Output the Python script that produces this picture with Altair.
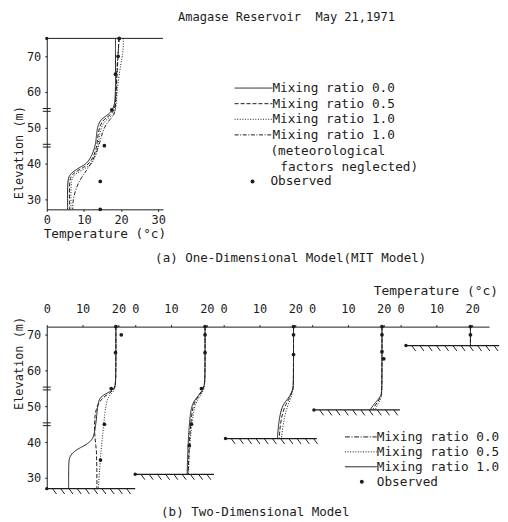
import altair as alt
import pandas as pd

FONT = "DejaVu Sans Mono"
INK = "#1c1c1c"

# ---------------- (a) One-Dimensional Model (MIT Model) ----------------
A_TITLE = "Amagase Reservoir\u00a0 May 21,1971"
A_CAPTION = "(a) One-Dimensional Model(MIT Model)"
A_SERIES = ["Mixing ratio 0.0", "Mixing ratio 0.5", "Mixing ratio 1.0",
            "Mixing ratio 1.0 (meteorological factors neglected)"]
A_ELEV = [75, 72, 70, 65, 60, 56, 54, 53, 52, 50, 48, 46, 44, 42, 40, 39, 38, 37, 36, 34, 30, 27.2]
A_MIX_00 = [18.5, 18.5, 18.5, 18.5, 18.5, 18.3, 17.0, 15.5, 14.3, 13.6, 13.4, 13.2, 12.8, 12.0, 10.8, 9.0, 7.5, 6.3, 5.8, 5.6, 5.6, 5.6]
A_MIX_05 = [19.4, 19.3, 19.2, 18.9, 18.7, 18.5, 17.6, 16.3, 15.0, 14.1, 13.8, 13.6, 13.3, 12.6, 11.5, 10.0, 8.3, 6.9, 6.3, 6.1, 6.1, 6.1]
A_MIX_10 = [20.6, 20.6, 20.3, 19.5, 18.9, 18.7, 18.2, 17.0, 15.7, 14.6, 14.2, 13.9, 13.7, 13.1, 12.2, 10.9, 9.2, 7.6, 6.8, 6.5, 6.5, 6.5]
A_MIX_10_NOMET = [19.5, 19.3, 19.1, 18.8, 18.6, 18.5, 18.3, 17.6, 16.7, 15.4, 14.8, 14.3, 13.7, 12.9, 11.9, 11.3, 10.6, 10.0, 9.3, 8.2, 7.0, 7.0]
A_OBS_ELEV = [75, 70, 65, 55, 45, 35, 27.2]
A_OBS_TEMP = [19.5, 19.2, 18.5, 17.5, 15.5, 14.4, 14.4]
A_SURFACE = 75
A_BOTTOM = 27.2
A_TMAX = 31.3
A_XTICKS = [0, 10, 20, 30]
A_YTICKS = [30, 40, 50, 60, 70]
INTAKES = [55, 45]

# ---------------- (b) Two-Dimensional Model ----------------
B_CAPTION = "(b) Two-Dimensional Model"
B_SERIES = ["Mixing ratio 0.0", "Mixing ratio 0.5", "Mixing ratio 1.0"]
B_SURFACE = 72.3
B_BOTTOM = 27
B_TMAX = 24.7
B_XTICKS = [0, 10, 20]
B_GROUND = [27, 31, 41, 49, 67]
B_GROUND_SPAN = [[0, 24.7], [0, 22], [0.5, 26], [0.5, 24.5], [1.5, 27.5]]
B_ELEV = [
    [72.3, 60, 56, 55, 54, 53, 52, 50, 48, 45, 42, 41, 40, 39, 38, 37, 36, 35, 33, 27],
    [72.3, 58, 56, 55, 54, 53, 52, 50, 45, 40, 35, 31],
    [72.3, 56, 55, 54, 53, 52, 51, 50, 48, 45, 41],
    [72.3, 54, 53, 52, 51, 50, 49],
    [72.3, 67],
]
B_MIX_00 = [
    [19.3, 19.3, 19.2, 18.8, 17.5, 15.5, 14.6, 14.2, 14.0, 13.7, 13.2, 12.8, 12.0, 10.5, 8.5, 7.2, 6.5, 6.2, 6.1, 6.1],
    [19.5, 19.5, 19.3, 19.0, 18.4, 17.6, 16.8, 15.6, 15.1, 14.8, 14.6, 14.5],
    [19.5, 19.5, 19.3, 19.0, 18.5, 17.8, 17.0, 16.4, 15.8, 15.3, 15.0],
    [19.5, 19.5, 19.2, 18.5, 17.6, 16.8, 16.2],
    [19.5, 19.5],
]
B_MIX_05 = [
    [19.3, 19.3, 19.2, 18.9, 18.0, 16.5, 15.2, 14.0, 13.5, 13.3, 13.4, 13.5, 13.6, 13.7, 13.8, 13.9, 13.9, 13.9, 14.0, 14.0],
    [19.5, 19.5, 19.3, 19.0, 18.5, 17.8, 17.1, 16.0, 15.5, 15.1, 14.9, 14.8],
    [19.5, 19.5, 19.4, 19.1, 18.7, 18.2, 17.6, 17.1, 16.4, 15.8, 15.5],
    [19.5, 19.5, 19.3, 18.8, 18.1, 17.4, 16.9],
    [19.5, 19.5],
]
B_MIX_10 = [
    [19.3, 19.3, 19.2, 19.0, 18.5, 17.5, 16.9, 16.5, 16.2, 15.9, 15.6, 15.5, 15.4, 15.3, 15.2, 15.1, 15.0, 15.0, 14.8, 14.4],
    [19.5, 19.5, 19.4, 19.2, 18.8, 18.2, 17.5, 16.5, 15.8, 15.3, 15.0, 14.9],
    [19.5, 19.5, 19.4, 19.2, 18.9, 18.6, 18.2, 17.8, 17.2, 16.6, 16.1],
    [19.5, 19.5, 19.4, 19.1, 18.6, 18.0, 17.6],
    [19.5, 19.5],
]
B_OBS_ELEV = [
    [72.3, 70, 65, 55, 45, 35],
    [72.3, 70, 65, 55, 45, 39],
    [72.3, 70, 64.5],
    [72.3, 70, 65.3, 63.3],
    [72.3, 70],
]
B_OBS_TEMP = [
    [19.3, 20.8, 19.2, 18.0, 16.1, 15.0],
    [19.5, 19.5, 19.5, 18.5, 15.7, 15.1],
    [19.5, 19.5, 19.5],
    [19.5, 19.5, 19.5, 20.0],
    [19.5, 19.5],
]

A_DASH = [[1, 0], [4, 2], [1, 1.6], [4, 1.6, 1, 1.6]]
B_DASH = [[5, 1.6, 1, 1.6], [1, 1.6], [1, 0]]

AXIS_STYLE = dict(grid=False, domainColor=INK, tickColor=INK, labelColor=INK,
                  labelFont=FONT, labelFontSize=12, tickSize=2, domainWidth=1,
                  labelFlush=False, labelOverlap=False, title=None)

ONE = alt.Data(values=[{"a": 1}])


def text(s, x, y, size=12.6, align="left", angle=0):
    return alt.Chart(ONE).mark_text(
        text=s, font=FONT, fontSize=size, color=INK, align=align,
        baseline="middle", angle=angle
    ).encode(x=alt.value(x), y=alt.value(y))


def legend_line(x1, x2, y, dash):
    return alt.Chart(ONE).mark_rule(color=INK, strokeWidth=1, strokeDash=dash).encode(
        x=alt.value(x1), x2=alt.value(x2), y=alt.value(y))


def legend_dot(x, y):
    return alt.Chart(ONE).mark_circle(color=INK, size=16, opacity=1).encode(
        x=alt.value(x), y=alt.value(y))


INTAKE_SHAPE = "M-1,-0.35L1,-0.35M-1,0.35L1,0.35"

# ================= chart (a) =================
a_rows = []
for name, temps in zip(A_SERIES, [A_MIX_00, A_MIX_05, A_MIX_10, A_MIX_10_NOMET]):
    for k, (e, t) in enumerate(zip(A_ELEV, temps)):
        a_rows.append({"series": name, "elev": e, "temp": t, "k": k})
a_df = pd.DataFrame(a_rows)

ax_x = alt.Axis(values=A_XTICKS, labelPadding=3, **AXIS_STYLE)
ax_y = alt.Axis(values=A_YTICKS, labelPadding=4, **AXIS_STYLE)
a_xs = alt.Scale(domain=[0, A_TMAX], nice=False, zero=False)
a_ys = alt.Scale(domain=[A_BOTTOM, A_SURFACE], nice=False, zero=False)


def AX(f):
    return alt.X(f, type="quantitative", scale=a_xs, axis=ax_x)


def AY(f):
    return alt.Y(f, type="quantitative", scale=a_ys, axis=ax_y)


a_lines = alt.Chart(a_df).mark_line(interpolate="basis", color=INK, strokeWidth=1).encode(
    x=AX("temp"), y=AY("elev"),
    strokeDash=alt.StrokeDash("series:N", scale=alt.Scale(domain=A_SERIES, range=A_DASH), legend=None),
    detail="series:N", order="k:Q")

a_surf_df = pd.DataFrame({"t0": [0], "t1": [A_TMAX], "e": [A_SURFACE]})
a_surface = alt.Chart(a_surf_df).mark_rule(color=INK, strokeWidth=1).encode(
    x=AX("t0"), x2="t1:Q", y=AY("e"))
a_surf_dot = alt.Chart(a_surf_df).mark_circle(color=INK, size=10, opacity=1).encode(
    x=AX("t0"), y=AY("e"))

a_obs = alt.Chart(pd.DataFrame({"elev": A_OBS_ELEV, "temp": A_OBS_TEMP})).mark_circle(
    color=INK, size=14, opacity=1).encode(x=AX("temp"), y=AY("elev"))

a_int = alt.Chart(pd.DataFrame({"elev": INTAKES, "temp": [0] * len(INTAKES)})).mark_point(
    shape=INTAKE_SHAPE, size=64, filled=False, color=INK, strokeWidth=1, opacity=1).encode(
    x=AX("temp"), y=AY("elev"))

a_text = [
    text(A_TITLE, 132, -21, 12.1),
    text("Elevation (m)", -28, 115, 12, align="center", angle=270),
    text("Temperature (°c)", 58.5, 197, 12.8, align="center"),
    text(A_CAPTION, 109, 221, 12.6),
]
a_leg = []
for i, (dash, lab) in enumerate(zip(A_DASH, ["Mixing ratio 0.0", "Mixing ratio 0.5",
                                                "Mixing ratio 1.0", "Mixing ratio 1.0"])):
    y = 50 + i * 15.7
    a_leg.append(legend_line(189, 227, y, dash))
    a_leg.append(text(lab, 227, y, 12.8))
a_leg += [text("(meteorological", 225, 113, 12.8),
          text("factors neglected)", 235, 129, 12.8),
          legend_dot(207, 144), text("Observed", 225, 144, 12.8)]

chart_a = alt.layer(a_lines, a_surface, a_surf_dot, a_obs, a_int, *a_text, *a_leg).properties(
    width=117, height=172)

# ================= chart (b) =================
b_xs = alt.Scale(domain=[0, B_TMAX], nice=False, zero=False)
b_ys = alt.Scale(domain=[B_BOTTOM, B_SURFACE], nice=False, zero=False)
bx_axis = alt.Axis(orient="top", values=B_XTICKS, labelPadding=9, **AXIS_STYLE)
by_axis = alt.Axis(values=A_YTICKS, labelPadding=4, **AXIS_STYLE)


def b_panel(i):
    yaxis = by_axis if i == 0 else None

    def BX(f):
        return alt.X(f, type="quantitative", scale=b_xs, axis=bx_axis)

    def BY(f):
        return alt.Y(f, type="quantitative", scale=b_ys, axis=yaxis)

    rows = []
    for name, temps in zip(B_SERIES, [B_MIX_00[i], B_MIX_05[i], B_MIX_10[i]]):
        for k, (e, t) in enumerate(zip(B_ELEV[i], temps)):
            rows.append({"series": name, "elev": e, "temp": t, "k": k})
    lines = alt.Chart(pd.DataFrame(rows)).mark_line(interpolate="basis", color=INK, strokeWidth=1).encode(
        x=BX("temp"), y=BY("elev"),
        strokeDash=alt.StrokeDash("series:N", scale=alt.Scale(domain=B_SERIES, range=B_DASH), legend=None),
        detail="series:N", order="k:Q")

    g = B_GROUND[i]
    g0, g1 = B_GROUND_SPAN[i]
    gdf = pd.DataFrame({"t0": [g0], "t1": [g1], "g": [g]})
    ground = alt.Chart(gdf).mark_rule(color=INK, strokeWidth=1.2).encode(
        x=BX("t0"), x2="t1:Q", y=BY("g"))
    gdot = alt.Chart(gdf).mark_circle(color=INK, size=12, opacity=1).encode(x=BX("t0"), y=BY("g"))
    hatch = alt.Chart(alt.sequence(g0 + 1.6, g1 - 0.5, 2.3, as_="h")).transform_calculate(
        h2="datum.h + 1.1", gy=f"{g}", gy2=f"{g} - 1.5"
    ).mark_rule(color=INK, strokeWidth=1).encode(x=BX("h"), x2="h2:Q", y=BY("gy"), y2="gy2:Q")

    obs = alt.Chart(pd.DataFrame({"elev": B_OBS_ELEV[i], "temp": B_OBS_TEMP[i]})).mark_circle(
        color=INK, size=14, opacity=1).encode(x=BX("temp"), y=BY("elev"))

    layers = [lines, ground, gdot, hatch, obs]
    if i == 0:
        layers.append(alt.Chart(pd.DataFrame({"elev": INTAKES, "temp": [0] * len(INTAKES)})).mark_point(
            shape=INTAKE_SHAPE, size=64, filled=False, color=INK, strokeWidth=1, opacity=1).encode(
            x=BX("temp"), y=BY("elev")))
        layers.append(text("Elevation (m)", -28, 37, 12, align="center", angle=270))
        layers.append(text(B_CAPTION, 115, 187, 12.6))
    if i == 3:
        for j, (dash, lab) in enumerate(zip(B_DASH, B_SERIES)):
            y = 111 + j * 15
            layers.append(legend_line(33, 65, y, dash))
            layers.append(text(lab, 65, y, 12.8))
        layers.append(legend_dot(50, 156))
        layers.append(text("Observed", 65, 156, 12.8))
    if i == 4:
        layers.append(text("Temperature (°c)", -27, -36, 13))
    return alt.layer(*layers).properties(width=89, height=163)


row_b = alt.hconcat(*[b_panel(i) for i in range(5)], spacing=0, bounds="flush")

chart = alt.vconcat(chart_a, row_b, spacing=118, bounds="flush").properties(
    padding={"left": 5, "top": 2, "right": 0, "bottom": 0},
    background="white",
).configure_view(stroke=None)

chart.save("out.html", embed_options={"renderer": "svg", "actions": False})
